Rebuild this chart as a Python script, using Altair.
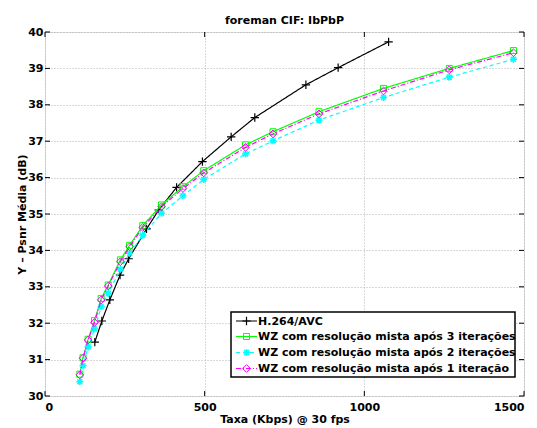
import altair as alt
import pandas as pd

# --- data -------------------------------------------------------------
names = [
    "H.264/AVC",
    "WZ com resolução mista após 3 iterações",
    "WZ com resolução mista após 2 iterações",
    "WZ com resolução mista após 1 iteração",
]

h264_rate = [156, 178, 203, 235, 262, 318, 356, 412, 493, 583, 657, 817, 918, 1076]
h264_psnr = [31.48, 32.06, 32.64, 33.32, 33.77, 34.59, 35.11, 35.73, 36.44, 37.12,
             37.65, 38.55, 39.02, 39.73]

wz_rate = [109, 119, 135, 155, 176, 198, 236, 265, 306, 365, 432, 497, 628, 714,
           858, 1060, 1266, 1467]
wz3_psnr = [30.60, 31.05, 31.56, 32.07, 32.68, 33.05, 33.74, 34.14, 34.68, 35.25,
            35.75, 36.19, 36.90, 37.26, 37.81, 38.45, 39.00, 39.49]
wz2_psnr = [30.39, 30.83, 31.35, 31.84, 32.45, 32.82, 33.48, 33.92, 34.42, 35.02,
            35.50, 35.95, 36.65, 37.01, 37.58, 38.20, 38.76, 39.25]
wz1_psnr = [30.58, 31.04, 31.54, 32.02, 32.64, 33.02, 33.69, 34.10, 34.63, 35.20,
            35.70, 36.13, 36.83, 37.20, 37.75, 38.38, 38.96, 39.43]

x_ticks = [0, 500, 1000, 1500]
y_ticks = list(range(30, 41))

W, H = 479, 364
FONT = "DejaVu Sans"

PLUS = "M-1,0L1,0M0,-1L0,1"
STAR = "M-1,0L1,0M0,-1L0,1M-0.7,-0.7L0.7,0.7M-0.7,0.7L0.7,-0.7"

styles = [
    dict(color="black", dash=[1, 0], shape=PLUS, size=70, filled=False, sw=1.2),
    dict(color="#00ff00", dash=[1, 0], shape="square", size=36, filled=False, sw=1.0),
    dict(color="#00ffff", dash=[4, 3], shape=STAR, size=50, filled=False, sw=1.6),
    dict(color="#ff00ff", dash=[5, 2, 1, 2], shape="diamond", size=60, filled=False, sw=1.0),
]
series = [
    (h264_rate, h264_psnr),
    (wz_rate, wz3_psnr),
    (wz_rate, wz2_psnr),
    (wz_rate, wz1_psnr),
]

xs = alt.Scale(domain=[0, 1500], nice=False, zero=False)
ys = alt.Scale(domain=[30, 40], nice=False, zero=False)

axis_common = dict(
    grid=True, gridColor="#b3b3b3", gridDash=[1, 2], gridWidth=1,
    ticks=False, domain=False, labelOverlap=False, format="d",
    labelFont=FONT, labelFontSize=11, labelFontWeight="bold", labelColor="black",
    titleFont=FONT, titleFontSize=11, titleFontWeight="bold", titleColor="black",
)
x_axis = alt.Axis(values=x_ticks, tickCount=len(x_ticks), labelPadding=5,
                  titlePadding=1, **axis_common)
y_axis = alt.Axis(values=y_ticks, tickCount=len(y_ticks), labelPadding=2,
                  titlePadding=0, **axis_common)
X_TITLE = "Taxa (Kbps) @ 30 fps"
Y_TITLE = "Y – Psnr Média (dB)"


def xenc(field):
    return alt.X(field, scale=xs, axis=x_axis, title=X_TITLE)


def yenc(field):
    return alt.Y(field, scale=ys, axis=y_axis, title=Y_TITLE)


layers = []

# inward tick marks on all four sides
xt = pd.DataFrame({"v": x_ticks})
yt = pd.DataFrame({"v": y_ticks})
for y0, y1 in [(H, H - 5), (0, 5)]:
    layers.append(alt.Chart(xt).mark_rule(color="black", strokeWidth=1).encode(
        x=xenc("v:Q"), y=alt.value(y0), y2=alt.value(y1)))
for x0, x1 in [(0, 5), (W, W - 5)]:
    layers.append(alt.Chart(yt).mark_rule(color="black", strokeWidth=1).encode(
        y=yenc("v:Q"), x=alt.value(x0), x2=alt.value(x1)))

# curves with markers
for name, (rate, psnr), st in zip(names, series, styles):
    df = pd.DataFrame({"rate": rate, "psnr": psnr, "serie": name})
    layers.append(alt.Chart(df).mark_line(
        color=st["color"], strokeDash=st["dash"], strokeWidth=1.2).encode(
        x=xenc("rate:Q"), y=yenc("psnr:Q"), order="rate:Q"))
    layers.append(alt.Chart(df).mark_point(
        shape=st["shape"], size=st["size"], filled=st["filled"],
        color=st["color"], strokeWidth=st["sw"], opacity=1).encode(
        x=xenc("rate:Q"), y=yenc("psnr:Q")))

# legend box
lx0, lx1, ly0, ly1 = 186, 470, 280, 345
one = pd.DataFrame({"a": [0]})
layers.append(alt.Chart(one).mark_rect(fill="white", stroke="black", strokeWidth=1.5).encode(
    x=alt.value(lx0), x2=alt.value(lx1), y=alt.value(ly0), y2=alt.value(ly1)))
row_y = [289, 304.5, 320.5, 336.5]
for name, st, ry in zip(names, styles, row_y):
    lab = pd.DataFrame({"label": [name]})
    layers.append(alt.Chart(lab).mark_rule(
        color=st["color"], strokeDash=st["dash"], strokeWidth=1.2).encode(
        x=alt.value(lx0 + 5), x2=alt.value(lx0 + 26), y=alt.value(ry)))
    layers.append(alt.Chart(lab).mark_point(
        shape=st["shape"], size=st["size"], filled=st["filled"],
        color=st["color"], strokeWidth=st["sw"], opacity=1).encode(
        x=alt.value(lx0 + 15.5), y=alt.value(ry)))
    layers.append(alt.Chart(lab).mark_text(
        align="left", baseline="middle", font=FONT, fontSize=11,
        fontWeight="bold", color="black").encode(
        x=alt.value(lx0 + 27), y=alt.value(ry + 0.5), text="label:N"))

chart = alt.layer(*layers).properties(
    width=W, height=H,
    title=alt.TitleParams("foreman CIF: IbPbP", font=FONT, fontSize=11,
                          fontWeight="bold", color="black", offset=0, anchor="middle"),
    autosize=alt.AutoSizeParams(type="none"),
    padding={"left": 45, "top": 32, "right": 13, "bottom": 32},
).configure_view(stroke="black", strokeWidth=1.2).configure(background="white")

chart.save("out.html", embed_options={"renderer": "svg", "actions": False})
